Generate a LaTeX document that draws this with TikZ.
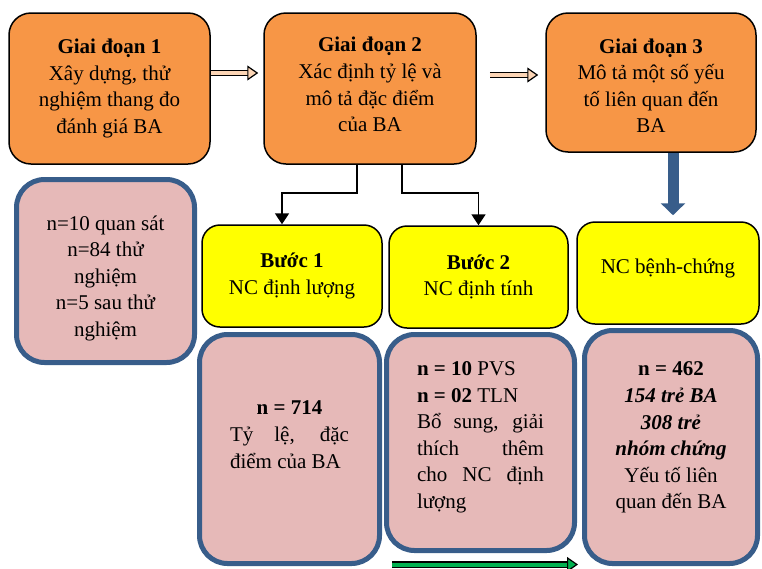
\documentclass[tikz,border=0pt]{standalone}
\usepackage{fontspec}
\setmainfont{Liberation Serif}
\definecolor{phasefill}{RGB}{247, 150, 70}
\definecolor{stepfill}{RGB}{255, 255, 0}
\definecolor{samplefill}{RGB}{230, 185, 184}
\definecolor{sampleedge}{RGB}{56, 93, 138}
\definecolor{peach}{RGB}{252, 213, 181}
\definecolor{flowgreen}{RGB}{0, 176, 80}
\usetikzlibrary{arrows.meta}
\tikzset{
    phase/.style={draw, line width=1.5pt, fill=phasefill, rounded corners=22pt,
        align=center, inner sep=0pt},
    stepbox/.style={draw, line width=1.5pt, fill=stepfill, rounded corners=18pt,
        align=center, inner sep=0pt},
    samplebox/.style={draw=sampleedge, line width=5pt, fill=samplefill,
        rounded corners=28pt, align=center, inner sep=0pt},
    elbow/.style={line width=1.8pt, -{Triangle[length=11pt, width=14pt]}},
    bigdown/.style={sampleedge, line width=11pt,
        -{Triangle[length=12pt, width=24pt]}},
    hollow/.style={double=#1, double distance=4pt, line width=1.2pt,
        -{Triangle[length=11pt, width=15pt, fill=#1]}},
}
\newcommand{\jline}[2]{\makebox[#1][s]{#2}}
% extra depth under the last line, to lift a text block in its box
\newcommand{\lift}[1]{\rule[-#1]{0pt}{#1}}

\begin{document}
\begin{tikzpicture}[x=1pt, y=-1pt, font=\fontsize{21}{26.6}\selectfont]
    \useasboundingbox (0, 0) rectangle (762, 568);
    % three phases
    \node[phase, minimum width=201pt, minimum height=151pt] (g1) at (109.5, 88.5)
        {\textbf{Giai đoạn 1}\\Xây dựng, thử\\nghiệm thang đo\\đánh giá BA};
    \node[phase, minimum width=212pt, minimum height=151pt] (g2) at (370, 88.5)
        {\textbf{Giai đoạn 2}\\Xác định tỷ lệ và\\mô tả đặc điểm\\của BA\lift{8pt}};
    \node[phase, minimum width=210pt, minimum height=139pt] (g3) at (651, 82.5)
        {\rule{0pt}{21pt}\textbf{Giai đoạn 3}\\Mô tả một số yếu\\tố liên quan đến\\BA};
    \draw[hollow=peach] ([yshift=15.5pt]g1.east)
        -- ([xshift=-5pt, yshift=15.5pt]g2.west);
    \draw[hollow=peach] ([xshift=13pt, yshift=13.5pt]g2.east)
        -- ([xshift=-7pt, yshift=7.5pt]g3.west);
    % steps
    \node[stepbox, minimum width=180pt, minimum height=102pt] (b1) at (292, 276)
        {\textbf{Bước 1}\\NC định lượng};
    \node[stepbox, minimum width=179pt, minimum height=102pt] (b2) at (478.5, 277)
        {\textbf{Bước 2}\\NC định tính};
    \node[stepbox, minimum width=182pt, minimum height=102pt] (b3) at (668, 273)
        {NC bệnh-chứng\lift{13pt}};
    \draw[elbow] ([xshift=-13pt]g2.south) -- ++(0, 28) -| ([xshift=-10pt]b1.north);
    \draw[elbow] ([xshift=32pt]g2.south) -- ++(0, 28) -| (b2.north);
    \draw[bigdown] ([xshift=22pt]g3.south)
        -- ([xshift=22pt, yshift=6pt]g3.south |- b3.north);
    % samples
    \node[samplebox, minimum width=178pt, minimum height=183pt] (s0) at (105.5, 271)
        {\rule{0pt}{29pt}n=10 quan sát\\n=84 thử\\nghiệm\\n=5 sau thử\\nghiệm};
    \node[samplebox, minimum width=180pt, minimum height=229pt, align=left] (s1)
        at (289.5, 449) {\makebox[119pt]{\textbf{n = 714}}\\
        \jline{119pt}{Tỷ lệ, đặc}\\điểm của BA\lift{29pt}};
    \node[samplebox, minimum width=188pt, minimum height=216pt, align=left] (s2)
        at (480.5, 442.5) {\textbf{n = 10} PVS\\\textbf{n = 02} TLN\\
        \jline{127pt}{Bổ sung, giải}\\\jline{127pt}{thích thêm}\\
        \jline{127pt}{cho NC định}\\lượng\lift{15pt}};
    \node[samplebox, minimum width=173pt, minimum height=233pt] (s3) at (671, 447)
        {\textbf{n = 462}\\\textbf{\textit{154 trẻ BA}}\\\textbf{\textit{308 trẻ}}\\
        \textbf{\textit{nhóm chứng}}\\Yếu tố liên\\quan đến BA\lift{23pt}};
    \coordinate (cmpstart) at (392, 564.5);
    \coordinate (cmpend) at (578, 564.5);
    \draw[hollow=flowgreen] (cmpstart) -- (cmpend);
\end{tikzpicture}
\end{document}
